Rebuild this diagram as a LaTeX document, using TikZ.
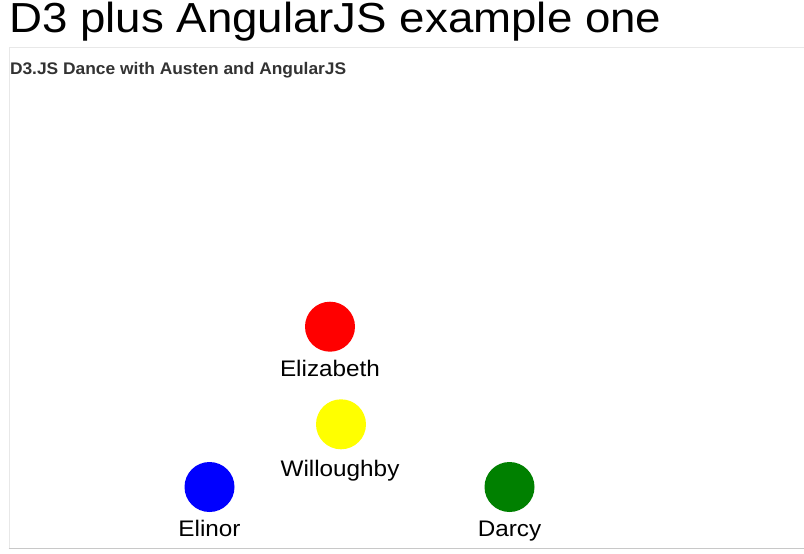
\documentclass[tikz,border=0pt]{standalone}
\usepackage{fontspec}
\setmainfont{Liberation Sans}
\definecolor{subgray}{HTML}{333333}
\definecolor{lightline}{HTML}{E8E8E8}
\definecolor{darkline}{HTML}{C8C8C8}
\definecolor{dgreen}{HTML}{008000}
\definecolor{pureyellow}{HTML}{FFFF00}
\tikzset{
  dot/.style={circle, minimum size=50pt, inner sep=0pt, draw=none},
  lbl/.style={anchor=base, inner sep=0pt, font=\fontsize{22.5}{26}\selectfont},
}
\newcommand{\wide}[2]{\scalebox{#1}[1]{#2}}
\begin{document}
\begin{tikzpicture}[x=1pt,y=-1pt]
\useasboundingbox[fill=white] (0,0) rectangle (804,554);
% panel border
\draw[lightline, line width=1pt] (9,47.5) -- (804,47.5);
\draw[lightline, line width=1pt] (9,47.5) -- (9,548);
\draw[darkline, line width=1.2pt] (8.5,548.6) -- (804,548.6);
% titles
\node[anchor=base west, inner sep=0pt, font=\fontsize{42}{48}\selectfont] (title) at (9,32) {\wide{1.087}{D3 plus AngularJS example one}};
\node[anchor=base west, inner sep=0pt, text=subgray, font=\bfseries\fontsize{16.8}{20}\selectfont] (sub) at (9.8,74) {\wide{1.035}{D3.JS Dance with Austen and AngularJS}};
% dancers
\node[dot, fill=red] (eliz) at (330,326.7) {};
\node[lbl] (elizl) at (330,376) {\wide{1.08}{Elizabeth}};
\node[dot, fill=pureyellow] (will) at (341,424.3) {};
\node[lbl] (willl) at (340,476.7) {\wide{1.08}{Willoughby}};
\node[dot, fill=blue] (elin) at (209.5,487) {};
\node[lbl] (elinl) at (209.5,536.7) {\wide{1.08}{Elinor}};
\node[dot, fill=dgreen] (darc) at (509.5,487) {};
\node[lbl] (darcl) at (509.5,536.7) {\wide{1.08}{Darcy}};
\end{tikzpicture}
\end{document}
